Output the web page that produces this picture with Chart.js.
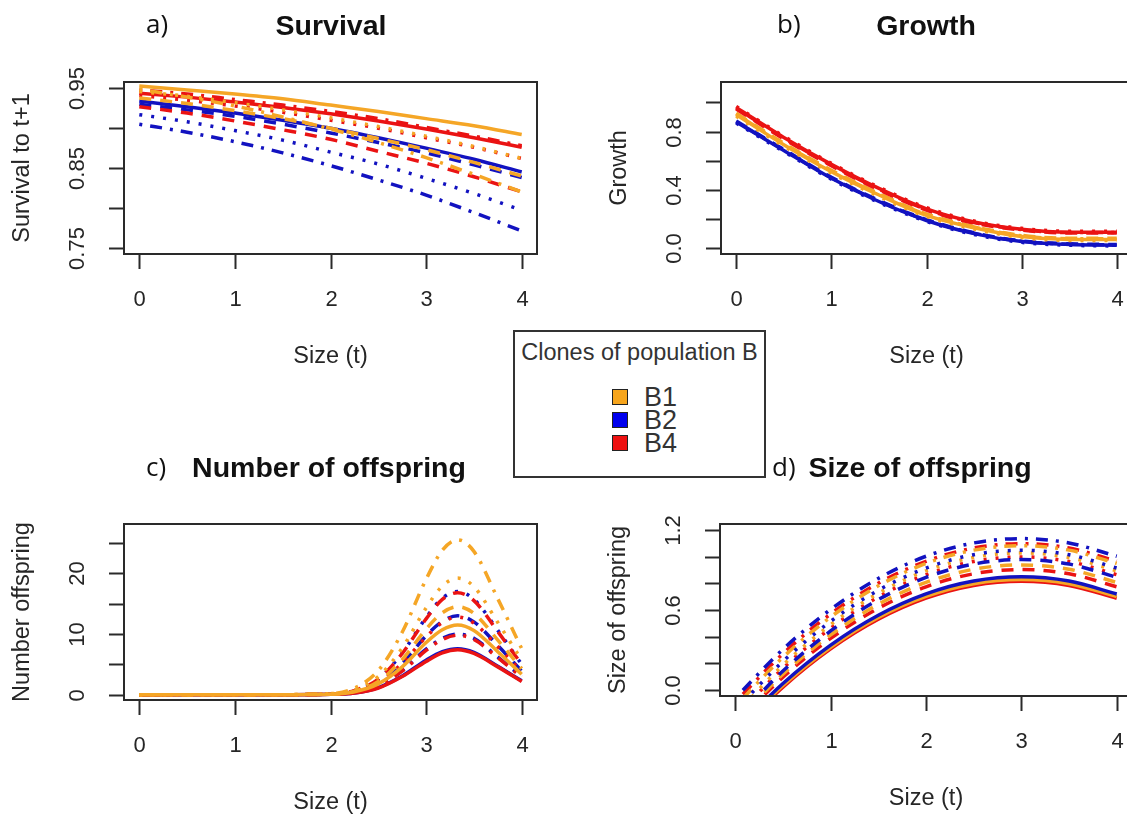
<!DOCTYPE html>
<html>
<head>
<meta charset="utf-8">
<title>Clones of population B - vital rates</title>
<script src="https://cdn.jsdelivr.net/npm/chart.js@4.4.1/dist/chart.umd.min.js"></script>
<style>
	html, body {
		margin: 0;
		padding: 0;
		background: #fff;
	}
	#page {
		position: relative;
		width: 1127px;
		height: 816px;
		overflow: hidden;
		background: #fff;
		font-family: "Liberation Sans", Arial, sans-serif;
		color: #222;
	}
	canvas {
		position: absolute;
	}
	.letter {
		position: absolute;
		font-family: "Open Sans", Lato, sans-serif;
		font-size: 26px;
		line-height: 30px;
		color: #111;
	}
	.title {
		position: absolute;
		font-weight: bold;
		font-size: 28.5px;
		line-height: 30px;
		color: #111;
		transform: translateX(-50%);
		white-space: nowrap;
	}
	#legend {
		position: absolute;
		left: 513px;
		top: 330px;
		width: 249px;
		height: 144px;
		border: 2px solid #333;
		background: #fff;
		z-index: 5;
	}
	#legend .head {
		position: absolute;
		left: 0;
		right: 0;
		top: 7px;
		text-align: center;
		font-size: 23.5px;
		white-space: nowrap;
		color: #333;
	}
	#legend .item {
		position: absolute;
		left: 97px;
		font-size: 27px;
		line-height: 24px;
		color: #333;
	}
	#legend .item span {
		display: inline-block;
		width: 14px;
		height: 14px;
		border: 1.5px solid #222;
		margin-right: 16px;
		vertical-align: 1px;
	}
</style>
</head>
<body>
<div id="page">
	<canvas id="chart-survival" width="560" height="400" style="left:0;top:0"></canvas>
	<canvas id="chart-growth" width="600" height="400" style="left:560px;top:0"></canvas>
	<canvas id="chart-offspring" width="560" height="416" style="left:0;top:400px"></canvas>
	<canvas id="chart-size" width="600" height="416" style="left:560px;top:400px"></canvas>

	<div class="letter" style="left:146px;top:8px">a)</div>
	<div class="title" style="left:331px;top:10px">Survival</div>
	<div class="letter" style="left:777px;top:8px">b)</div>
	<div class="title" style="left:926px;top:10px">Growth</div>
	<div class="letter" style="left:146px;top:451px">c)</div>
	<div class="title" style="left:329px;top:452px">Number of offspring</div>
	<div class="letter" style="left:772px;top:451px">d)</div>
	<div class="title" style="left:920px;top:452px">Size of offspring</div>

	<div id="legend">
		<div class="head">Clones of population B</div>
		<div class="item" style="top:53px"><span style="background:#f7a51c"></span>B1</div>
		<div class="item" style="top:76px"><span style="background:#0000ee"></span>B2</div>
		<div class="item" style="top:99px"><span style="background:#ee1111"></span>B4</div>
	</div>
</div>

<script>
	'use strict';

	// Clones and line types (R lty: solid, dashed, dotted, dotdash)
	const clones = ['B1', 'B2', 'B4'];
	const cloneColors = ['#f5a626', '#1212c0', '#ea1313'];
	const lineTypes = ['solid', 'dashed', 'dotted', 'dotdash'];

	const sizeTicks = [0, 1, 2, 3, 4];

	// a) Survival to t+1  (rows: solid, dashed, dotted, dotdash)
	const survivalX = [0, 0.5, 1, 1.5, 2, 2.5, 3, 3.5, 4];
	const survivalB1 = [
		[0.953, 0.948, 0.943, 0.937, 0.929, 0.921, 0.912, 0.903, 0.892],
		[0.938, 0.931, 0.922, 0.912, 0.900, 0.887, 0.873, 0.857, 0.840],
		[0.946, 0.940, 0.932, 0.923, 0.913, 0.902, 0.890, 0.877, 0.862],
		[0.949, 0.939, 0.928, 0.914, 0.899, 0.882, 0.863, 0.842, 0.820]
	];
	const survivalB2 = [
		[0.934, 0.927, 0.919, 0.910, 0.900, 0.888, 0.875, 0.861, 0.845],
		[0.930, 0.923, 0.915, 0.905, 0.894, 0.882, 0.869, 0.854, 0.838],
		[0.917, 0.908, 0.897, 0.885, 0.870, 0.855, 0.837, 0.818, 0.797],
		[0.905, 0.895, 0.883, 0.869, 0.853, 0.835, 0.816, 0.794, 0.771]
	];
	const survivalB4 = [
		[0.944, 0.939, 0.933, 0.926, 0.918, 0.909, 0.899, 0.888, 0.876],
		[0.927, 0.919, 0.909, 0.898, 0.886, 0.871, 0.856, 0.839, 0.820],
		[0.941, 0.935, 0.928, 0.920, 0.910, 0.900, 0.888, 0.876, 0.862],
		[0.948, 0.943, 0.936, 0.929, 0.921, 0.912, 0.901, 0.890, 0.878]
	];
	const survivalTicks = [0.75, 0.80, 0.85, 0.90, 0.95];
	const survivalTickLabels = ['0.75', '', '0.85', '', '0.95'];

	// b) Growth
	const growthX = [0, 0.5, 1, 1.5, 2, 2.5, 3, 3.5, 4];
	const growthB1 = [
		[0.915, 0.710, 0.525, 0.365, 0.225, 0.140, 0.080, 0.060, 0.060],
		[0.925, 0.720, 0.535, 0.375, 0.235, 0.148, 0.088, 0.068, 0.068],
		[0.905, 0.700, 0.515, 0.355, 0.217, 0.132, 0.073, 0.053, 0.053],
		[0.920, 0.715, 0.530, 0.370, 0.230, 0.145, 0.085, 0.065, 0.065]
	];
	const growthB2 = [
		[0.865, 0.670, 0.480, 0.320, 0.190, 0.100, 0.045, 0.025, 0.020],
		[0.872, 0.677, 0.487, 0.327, 0.196, 0.106, 0.050, 0.030, 0.025],
		[0.858, 0.663, 0.473, 0.313, 0.184, 0.094, 0.040, 0.020, 0.015],
		[0.868, 0.673, 0.483, 0.323, 0.193, 0.103, 0.047, 0.027, 0.022]
	];
	const growthB4 = [
		[0.965, 0.760, 0.575, 0.410, 0.270, 0.180, 0.130, 0.110, 0.110],
		[0.955, 0.750, 0.565, 0.400, 0.262, 0.172, 0.124, 0.104, 0.104],
		[0.972, 0.768, 0.582, 0.418, 0.278, 0.186, 0.136, 0.116, 0.116],
		[0.960, 0.755, 0.570, 0.405, 0.266, 0.176, 0.127, 0.107, 0.107]
	];
	const growthTicks = [0, 0.2, 0.4, 0.6, 0.8, 1.0];
	const growthTickLabels = ['0.0', '', '0.4', '', '0.8', ''];

	// c) Number of offspring
	const offspringX = [0, 1, 2, 2.25, 2.5, 2.75, 3, 3.17, 3.33, 3.5, 3.75, 4];
	const offspringB1 = [
		[0, 0, 0.1, 0.5, 1.8, 4.6, 8.6, 10.7, 11.5, 10.6, 7.1, 3.4],
		[0, 0, 0.1, 0.6, 2.2, 5.8, 10.8, 13.5, 14.5, 13.4, 9.0, 4.3],
		[0, 0, 0.2, 0.8, 3.0, 7.7, 14.3, 17.9, 19.2, 17.8, 11.9, 5.7],
		[0, 0, 0.2, 1.1, 4.0, 10.3, 19.0, 23.8, 25.5, 23.6, 15.8, 7.6]
	];
	const offspringB2 = [
		[0, 0, 0.1, 0.3, 1.2, 3.1, 5.7, 7.1, 7.6, 7.0, 4.7, 2.3],
		[0, 0, 0.1, 0.6, 2.0, 5.2, 9.7, 12.1, 13.0, 12.0, 8.1, 3.9],
		[0, 0, 0.1, 0.7, 2.6, 6.9, 12.7, 15.9, 17.0, 15.7, 10.6, 5.0],
		[0, 0, 0.1, 0.4, 1.6, 4.0, 7.5, 9.3, 10.0, 9.3, 6.2, 3.0]
	];
	const offspringB4 = [
		[0, 0, 0.1, 0.3, 1.1, 3.0, 5.5, 6.9, 7.4, 6.8, 4.6, 2.2],
		[0, 0, 0.1, 0.7, 2.6, 6.8, 12.5, 15.7, 16.8, 15.5, 10.4, 5.0],
		[0, 0, 0.1, 0.6, 2.0, 5.2, 9.5, 11.9, 12.8, 11.8, 7.9, 3.8],
		[0, 0, 0.1, 0.4, 1.5, 3.9, 7.3, 9.1, 9.8, 9.1, 6.1, 2.9]
	];
	const offspringTicks = [0, 5, 10, 15, 20, 25];
	const offspringTickLabels = ['0', '', '10', '', '20', ''];

	// d) Size of offspring
	const sizeX = [0, 0.5, 1, 1.5, 2, 2.5, 3, 3.5, 4];
	const sizeB1 = [
		[-0.319, 0.032, 0.319, 0.543, 0.702, 0.798, 0.830, 0.798, 0.702],
		[-0.247, 0.116, 0.412, 0.643, 0.808, 0.907, 0.940, 0.907, 0.808],
		[-0.187, 0.185, 0.489, 0.726, 0.895, 0.996, 1.030, 0.996, 0.895],
		[-0.126, 0.244, 0.547, 0.782, 0.951, 1.051, 1.085, 1.051, 0.951]
	];
	const sizeB2 = [
		[-0.308, 0.046, 0.335, 0.560, 0.721, 0.818, 0.850, 0.818, 0.721],
		[-0.230, 0.140, 0.442, 0.678, 0.846, 0.946, 0.980, 0.946, 0.846],
		[-0.155, 0.213, 0.514, 0.749, 0.916, 1.017, 1.050, 1.017, 0.916],
		[-0.064, 0.304, 0.604, 0.838, 1.005, 1.105, 1.138, 1.105, 1.005]
	];
	const sizeB4 = [
		[-0.332, 0.019, 0.307, 0.530, 0.689, 0.785, 0.817, 0.785, 0.689],
		[-0.263, 0.094, 0.386, 0.613, 0.775, 0.873, 0.905, 0.873, 0.775],
		[-0.208, 0.161, 0.463, 0.698, 0.866, 0.966, 1.000, 0.966, 0.866],
		[-0.094, 0.271, 0.570, 0.802, 0.967, 1.067, 1.100, 1.067, 0.967]
	];
	const sizeOffTicks = [0, 0.2, 0.4, 0.6, 0.8, 1.0, 1.2];
	const sizeOffTickLabels = ['0.0', '', '', '0.6', '', '', '1.2'];

	const dashes = {
		solid: [],
		dashed: [12, 9],
		dotted: [3, 9],
		dotdash: [3, 8, 12, 8]
	};

	/**
	 * R style box, ticks and axis labels drawn from the chart's own scales
	 */
	const rAxesPlugin = {
		id: 'rAxes',
		afterDraw(chart, args, opts) {
			const { ctx, chartArea: ca } = chart;
			const xs = chart.scales.x;
			const ys = chart.scales.y;
			const tickLen = 15;

			ctx.save();
			ctx.strokeStyle = '#2a2a2a';
			ctx.lineWidth = 2;
			ctx.strokeRect(ca.left, ca.top, ca.right - ca.left, ca.bottom - ca.top);

			ctx.fillStyle = '#262626';
			ctx.font = '22px "Liberation Sans", Arial, sans-serif';
			ctx.textAlign = 'center';
			ctx.textBaseline = 'middle';

			// x axis
			opts.xTicks.forEach(v => {
				const px = Math.round(xs.getPixelForValue(v)) + 0.5;
				ctx.beginPath();
				ctx.moveTo(px, ca.bottom);
				ctx.lineTo(px, ca.bottom + tickLen);
				ctx.stroke();
				ctx.fillText(String(v), px, ca.bottom + 46);
			});
			ctx.font = '23.5px "Liberation Sans", Arial, sans-serif';
			ctx.fillText(opts.xTitle, (ca.left + ca.right) / 2, ca.bottom + 103);

			// y axis
			ctx.font = '22px "Liberation Sans", Arial, sans-serif';
			opts.yTicks.forEach((v, i) => {
				const py = Math.round(ys.getPixelForValue(v)) + 0.5;
				ctx.beginPath();
				ctx.moveTo(ca.left - tickLen, py);
				ctx.lineTo(ca.left, py);
				ctx.stroke();
				const label = opts.yTickLabels[i];
				if (label) {
					ctx.save();
					ctx.translate(ca.left - 46, py);
					ctx.rotate(-Math.PI / 2);
					ctx.fillText(label, 0, 0);
					ctx.restore();
				}
			});
			ctx.font = '23.5px "Liberation Sans", Arial, sans-serif';
			ctx.save();
			ctx.translate(opts.yTitleX, (ca.top + ca.bottom) / 2);
			ctx.rotate(-Math.PI / 2);
			ctx.fillText(opts.yTitle, 0, 0);
			ctx.restore();

			ctx.restore();
		}
	};

	function buildDatasets(xValues, groups, topOrder) {
		const datasets = [];
		topOrder.forEach(ci => {
			groups[ci].forEach((values, li) => {
				datasets.push({
					label: clones[ci] + ' ' + lineTypes[li],
					data: xValues.map((x, k) => ({ x: x, y: values[k] })),
					borderColor: cloneColors[ci],
					borderWidth: 3.5,
					borderDash: dashes[lineTypes[li]],
					borderCapStyle: 'butt',
					pointRadius: 0,
					fill: false,
					cubicInterpolationMode: 'monotone'
				});
			});
		});
		return datasets;
	}

	function initPanel(id, cfg) {
		const canvas = document.getElementById(id);
		return new Chart(canvas, {
			type: 'line',
			data: { datasets: buildDatasets(cfg.x, cfg.groups, cfg.order) },
			options: {
				responsive: false,
				animation: false,
				devicePixelRatio: 1,
				layout: { padding: cfg.padding },
				scales: {
					x: { type: 'linear', min: -0.16, max: 4.16, display: false },
					y: { type: 'linear', min: cfg.yMin, max: cfg.yMax, display: false }
				},
				plugins: {
					legend: { display: false },
					tooltip: { enabled: false },
					rAxes: {
						xTicks: sizeTicks,
						xTitle: 'Size (t)',
						yTicks: cfg.yTicks,
						yTickLabels: cfg.yTickLabels,
						yTitle: cfg.yTitle,
						yTitleX: cfg.yTitleX
					}
				}
			},
			plugins: [rAxesPlugin]
		});
	}

	initPanel('chart-survival', {
		x: survivalX,
		groups: [survivalB1, survivalB2, survivalB4],
		order: [0, 2, 1],
		padding: { left: 124, right: 23, top: 82, bottom: 146 },
		yMin: 0.742, yMax: 0.958,
		yTicks: survivalTicks,
		yTickLabels: survivalTickLabels,
		yTitle: 'Survival to t+1',
		yTitleX: 23
	});

	initPanel('chart-growth', {
		x: growthX,
		groups: [growthB1, growthB2, growthB4],
		order: [2, 0, 1],
		padding: { left: 161, right: 28, top: 82, bottom: 146 },
		yMin: -0.04, yMax: 1.14,
		yTicks: growthTicks,
		yTickLabels: growthTickLabels,
		yTitle: 'Growth',
		yTitleX: 60
	});

	initPanel('chart-offspring', {
		x: offspringX,
		groups: [offspringB1, offspringB2, offspringB4],
		order: [0, 2, 1],
		padding: { left: 124, right: 23, top: 124, bottom: 116 },
		yMin: -0.85, yMax: 28.1,
		yTicks: offspringTicks,
		yTickLabels: offspringTickLabels,
		yTitle: 'Number offspring',
		yTitleX: 23
	});

	initPanel('chart-size', {
		x: sizeX,
		groups: [sizeB1, sizeB2, sizeB4],
		order: [1, 0, 2],
		padding: { left: 160, right: 28, top: 124, bottom: 120 },
		yMin: -0.048, yMax: 1.248,
		yTicks: sizeOffTicks,
		yTickLabels: sizeOffTickLabels,
		yTitle: 'Size of offspring',
		yTitleX: 59
	});
</script>
</body>
</html>
